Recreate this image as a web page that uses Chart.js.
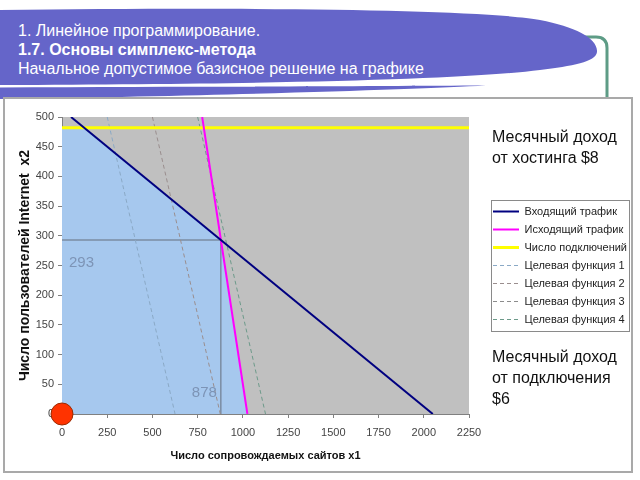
<!DOCTYPE html>
<html>
<head>
<meta charset="utf-8">
<script src="https://cdn.jsdelivr.net/npm/chart.js@4.4.0/dist/chart.umd.min.js"></script>
<style>
  html, body { margin: 0; padding: 0; background: #fff; }
  body { width: 640px; height: 480px; position: relative; overflow: hidden; font-family: "Liberation Sans", Arial, sans-serif; }
  #deco { position: absolute; left: 0; top: 0; }
  #heading { position: absolute; left: 18px; top: 21px; color: #fff; font-size: 16px; line-height: 19px; white-space: nowrap; }
  #frame { position: absolute; left: 3px; top: 97px; width: 630px; height: 376px; box-sizing: border-box; border: 2px solid #a9a9a9; background: #fff; }
  #chartBox { position: absolute; left: 6px; top: 100px; width: 624px; height: 370px; }
  .note { position: absolute; left: 492px; font-size: 16px; line-height: 21px; color: #111; }
</style>
</head>
<body>
<svg id="deco" width="640" height="100">
  <path d="M 380 37 L 596 37 Q 607 37 607 48 L 607 99" fill="none" stroke="#5e9c86" stroke-width="3"/>
  <path d="M 0 10 C 250 7 480 9 540 20 C 575 27 598 38 597 52 C 596 62 572 66 540 70 C 470 79 300 84 0 85 Z" fill="#6565c9"/>
  <path d="M 0 87.5 C 200 87 380 86 486 85.5 C 420 89 250 95 0 99 Z" fill="#6565c9"/>
</svg>
<div id="heading">1. Линейное программирование.<br><b>1.7. Основы симплекс-метода</b><br>Начальное допустимое базисное решение на графике</div>
<div id="frame"></div>
<div id="chartBox"><canvas id="lpChart"></canvas></div>
<div class="note" style="top:126px">Месячный доход<br>от хостинга $8</div>
<div class="note" style="top:346px">Месячный доход<br>от подключения<br>$6</div>

<script>
// axis ticks
const xTicks = [0, 250, 500, 750, 1000, 1250, 1500, 1750, 2000, 2250];
const yTicks = [0, 50, 100, 150, 200, 250, 300, 350, 400, 450, 500];

// constraint lines [x1, x2]
const incomingTraffic = [[50, 500], [2050, 0]];
const outgoingTraffic = [[775, 500], [1025, 0]];
const connections = [[0, 482], [2250, 482]];

// objective function lines 8*x1 + 6*x2 = c
const objective1 = [[250, 500], [625, 0]];
const objective2 = [[500, 500], [875, 0]];
const objective3 = [];
const objective4 = [[750, 500], [1125, 0]];

// feasible region and solution
const feasible = [[0, 482], [122, 482], [878, 293], [1025, 0]];
const optimum = [878, 293];
const startPoint = [[0, 0]];

const pts = arr => arr.map(([x, y]) => ({ x, y }));

const lineSet = (label, data, color, width, dash) => ({
  label: label,
  data: pts(data),
  showLine: true,
  borderColor: color,
  backgroundColor: color,
  borderWidth: width,
  borderDash: dash || [],
  pointRadius: 0,
  fill: false
});

const slidePlugin = {
  id: 'slide',
  beforeDraw(chart) {
    const { ctx, chartArea: a } = chart;
    ctx.save();
    ctx.fillStyle = '#c0c0c0';
    ctx.fillRect(a.left, a.top, a.right - a.left, a.bottom - a.top);
    ctx.restore();
  },
  afterDatasetsDraw(chart) {
    const { ctx, chartArea: a, scales } = chart;
    const px = scales.x.getPixelForValue(optimum[0]);
    const py = scales.y.getPixelForValue(optimum[1]);
    ctx.save();
    ctx.font = '15px "Liberation Sans", Arial, sans-serif';
    ctx.fillStyle = '#7d94b6';
    ctx.textBaseline = 'middle';
    ctx.textAlign = 'left';
    ctx.fillText(String(optimum[1]), a.left + 7, py + 23);
    ctx.textAlign = 'right';
    ctx.fillText(String(optimum[0]), px - 4, a.bottom - 21);
    ctx.restore();
  },
  afterDraw(chart) {
    const lg = chart.legend;
    const hb = lg.legendHitBoxes;
    if (!hb || !hb.length) return;
    const last = hb[hb.length - 1];
    const left = hb[0].left - 2;
    const top = hb[0].top - 6;
    const bottom = last.top + last.height + 6;
    const right = lg.right - 1;
    const ctx = chart.ctx;
    ctx.save();
    ctx.strokeStyle = '#8a8a8a';
    ctx.lineWidth = 1;
    ctx.strokeRect(Math.round(left) + 0.5, Math.round(top) + 0.5, Math.round(right - left), Math.round(bottom - top));
    ctx.restore();
  }
};

Chart.defaults.font.family = '"Liberation Sans", Arial, sans-serif';

const guide = [[0, optimum[1]], optimum, [optimum[0], 0]];

new Chart(document.getElementById('lpChart'), {
  type: 'scatter',
  data: {
    datasets: [
      {
        label: 'start', data: pts(startPoint), showLine: false, clip: false,
        pointRadius: 11, pointBackgroundColor: '#ff3300', pointBorderColor: '#9a2a00', pointBorderWidth: 1,
        inLegend: false
      },
      lineSet('Входящий трафик', incomingTraffic, '#000080', 2),
      lineSet('Исходящий трафик', outgoingTraffic, '#ff00ff', 2),
      lineSet('Число подключений', connections, '#ffff00', 3),
      lineSet('Целевая функция 1', objective1, '#8aa9c6', 1, [4, 3]),
      lineSet('Целевая функция 2', objective2, '#9a8e8e', 1, [4, 3]),
      lineSet('Целевая функция 3', objective3, '#8c8c8c', 1, [4, 3]),
      lineSet('Целевая функция 4', objective4, '#6d9a8a', 1, [4, 3]),
      Object.assign(lineSet('guide', guide, '#7b8ca2', 1.5), { inLegend: false }),
      {
        label: 'region', data: pts(feasible), showLine: true, fill: 'origin',
        backgroundColor: '#a6c8ee', borderWidth: 0, borderColor: 'rgba(0,0,0,0)', pointRadius: 0,
        inLegend: false
      }
    ]
  },
  options: {
    responsive: true,
    maintainAspectRatio: false,
    animation: false,
    events: [],
    layout: { padding: { top: 17, left: 0, right: 0, bottom: 0 } },
    scales: {
      x: {
        type: 'linear', position: 'bottom', min: 0, max: 2250,
        afterBuildTicks: s => { s.ticks = xTicks.map(v => ({ value: v })); },
        afterFit: s => { s.height = 56; },
        grid: { display: true, drawOnChartArea: false, drawTicks: true, tickLength: 4, color: '#808080' },
        border: { display: true, color: '#808080', width: 1 },
        ticks: { padding: 8, color: '#444', font: { size: 11 }, maxRotation: 0, autoSkip: false,
                 callback: v => String(v) },
        title: { display: true, text: 'Число сопровождаемых сайтов x1', color: '#111',
                 font: { size: 11, weight: 'bold' }, padding: { top: 0, bottom: 7 } }
      },
      y: {
        type: 'linear', position: 'left', min: 0, max: 500,
        afterBuildTicks: s => { s.ticks = yTicks.map(v => ({ value: v })); },
        afterFit: s => { s.width = 56; },
        grid: { display: true, drawOnChartArea: false, drawTicks: true, tickLength: 4, color: '#808080' },
        border: { display: true, color: '#808080', width: 1 },
        ticks: { padding: 4, color: '#444', font: { size: 11 }, callback: v => String(v) },
        title: { display: true, text: 'Число пользователей Internet  x2', color: '#111',
                 font: { size: 14, weight: 'bold' }, padding: { top: 11, bottom: 0 } }
      },
      gap: {
        type: 'linear', position: 'right', display: true,
        afterFit: s => { s.width = 17; },
        grid: { display: false }, ticks: { display: false }, border: { display: false }
      }
    },
    plugins: {
      tooltip: { enabled: false },
      legend: {
        position: 'right',
        fullSize: false,
        maxWidth: 144,
        labels: {
          usePointStyle: true,
          pointStyle: 'line',
          pointStyleWidth: 26,
          padding: 7,
          color: '#222',
          font: { size: 11 },
          generateLabels: chart => chart.data.datasets
            .map((ds, i) => ({ ds, i }))
            .filter(o => o.ds.inLegend !== false)
            .map(o => ({
              text: o.ds.label,
              fillStyle: o.ds.borderColor,
              strokeStyle: o.ds.borderColor,
              lineWidth: o.ds.borderWidth,
              lineDash: o.ds.borderDash,
              pointStyle: 'line',
              fontColor: '#222',
              hidden: false,
              datasetIndex: o.i
            }))
        }
      }
    }
  },
  plugins: [slidePlugin]
});
</script>
</body>
</html>
